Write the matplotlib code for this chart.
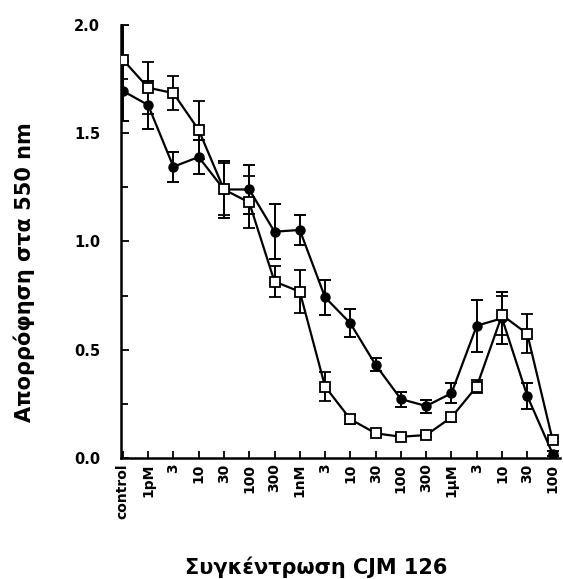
import numpy as np
import matplotlib
matplotlib.use('Agg')
import matplotlib.pyplot as plt
from matplotlib.ticker import MultipleLocator

plt.rcParams['font.family'] = ['DejaVu Sans']

# concentrations of CJM 126
labels = ['control', '1pM', '3', '10', '30', '100', '300', '1nM', '3', '10',
          '30', '100', '300', '1\u03bcM', '3', '10', '30', '100']

# open squares
sq_mean = [1.84, 1.71, 1.685, 1.515, 1.24, 1.18, 0.815, 0.768, 0.33, 0.179,
           0.114, 0.098, 0.106, 0.188, 0.33, 0.66, 0.573, 0.083]
sq_err = [0.16, 0.12, 0.08, 0.135, 0.12, 0.12, 0.07, 0.10, 0.065, 0.02,
          0.01, 0.01, 0.01, 0.02, 0.03, 0.09, 0.09, 0.01]

# filled circles
ci_mean = [1.695, 1.63, 1.345, 1.39, 1.24, 1.24, 1.045, 1.053, 0.742, 0.622,
           0.43, 0.272, 0.24, 0.299, 0.611, 0.645, 0.286, 0.02]
ci_err = [0.14, 0.11, 0.07, 0.08, 0.13, 0.115, 0.127, 0.07, 0.08, 0.065,
          0.03, 0.035, 0.03, 0.045, 0.12, 0.12, 0.06, 0.01]

x = np.arange(len(labels))

fig = plt.figure(figsize=(5.63, 5.79), dpi=100)
ax = fig.add_axes([0.215, 0.209, 0.78, 0.748])

ax.errorbar(x, ci_mean, yerr=ci_err, color='black', lw=1.6, marker='o',
            ms=6.5, mfc='black', mec='black', capsize=4, elinewidth=1.4,
            capthick=1.4, zorder=3)
ax.errorbar(x, sq_mean, yerr=sq_err, color='black', lw=1.6, marker='s',
            ms=6.5, mfc='white', mec='black', mew=1.3, capsize=4,
            elinewidth=1.4, capthick=1.4, zorder=4)

ax.set_xlim(-0.07, 17.3)
ax.set_ylim(0, 2.0)
ax.set_xticks(x)
ax.set_xticklabels(labels, rotation=90, fontsize=10, fontweight='bold')
ax.yaxis.set_major_locator(MultipleLocator(0.5))
ax.yaxis.set_minor_locator(MultipleLocator(0.25))
ax.set_yticks([0, 0.5, 1.0, 1.5, 2.0])
ax.set_yticklabels(['0.0', '0.5', '1.0', '1.5', '2.0'], fontsize=10.5,
                   fontweight='bold')

ax.tick_params(axis='both', which='both', direction='in', width=1.3)
ax.tick_params(axis='x', length=5, pad=4)
ax.tick_params(axis='y', which='major', length=6, pad=15)
ax.tick_params(axis='y', which='minor', length=5)

for side in ['top', 'right']:
    ax.spines[side].set_visible(False)
for side in ['left', 'bottom']:
    ax.spines[side].set_linewidth(1.8)

fig.text(0.562, 0.009, 'Συγκέντρωση CJM 126', ha='center', va='baseline',
         fontsize=15, fontweight='bold')
fig.text(0.043, 0.530, 'Απορρόφηση στα 550 nm', ha='center', va='center',
         rotation=90, fontsize=15, fontweight='bold')

plt.savefig('out.png', dpi=100)
